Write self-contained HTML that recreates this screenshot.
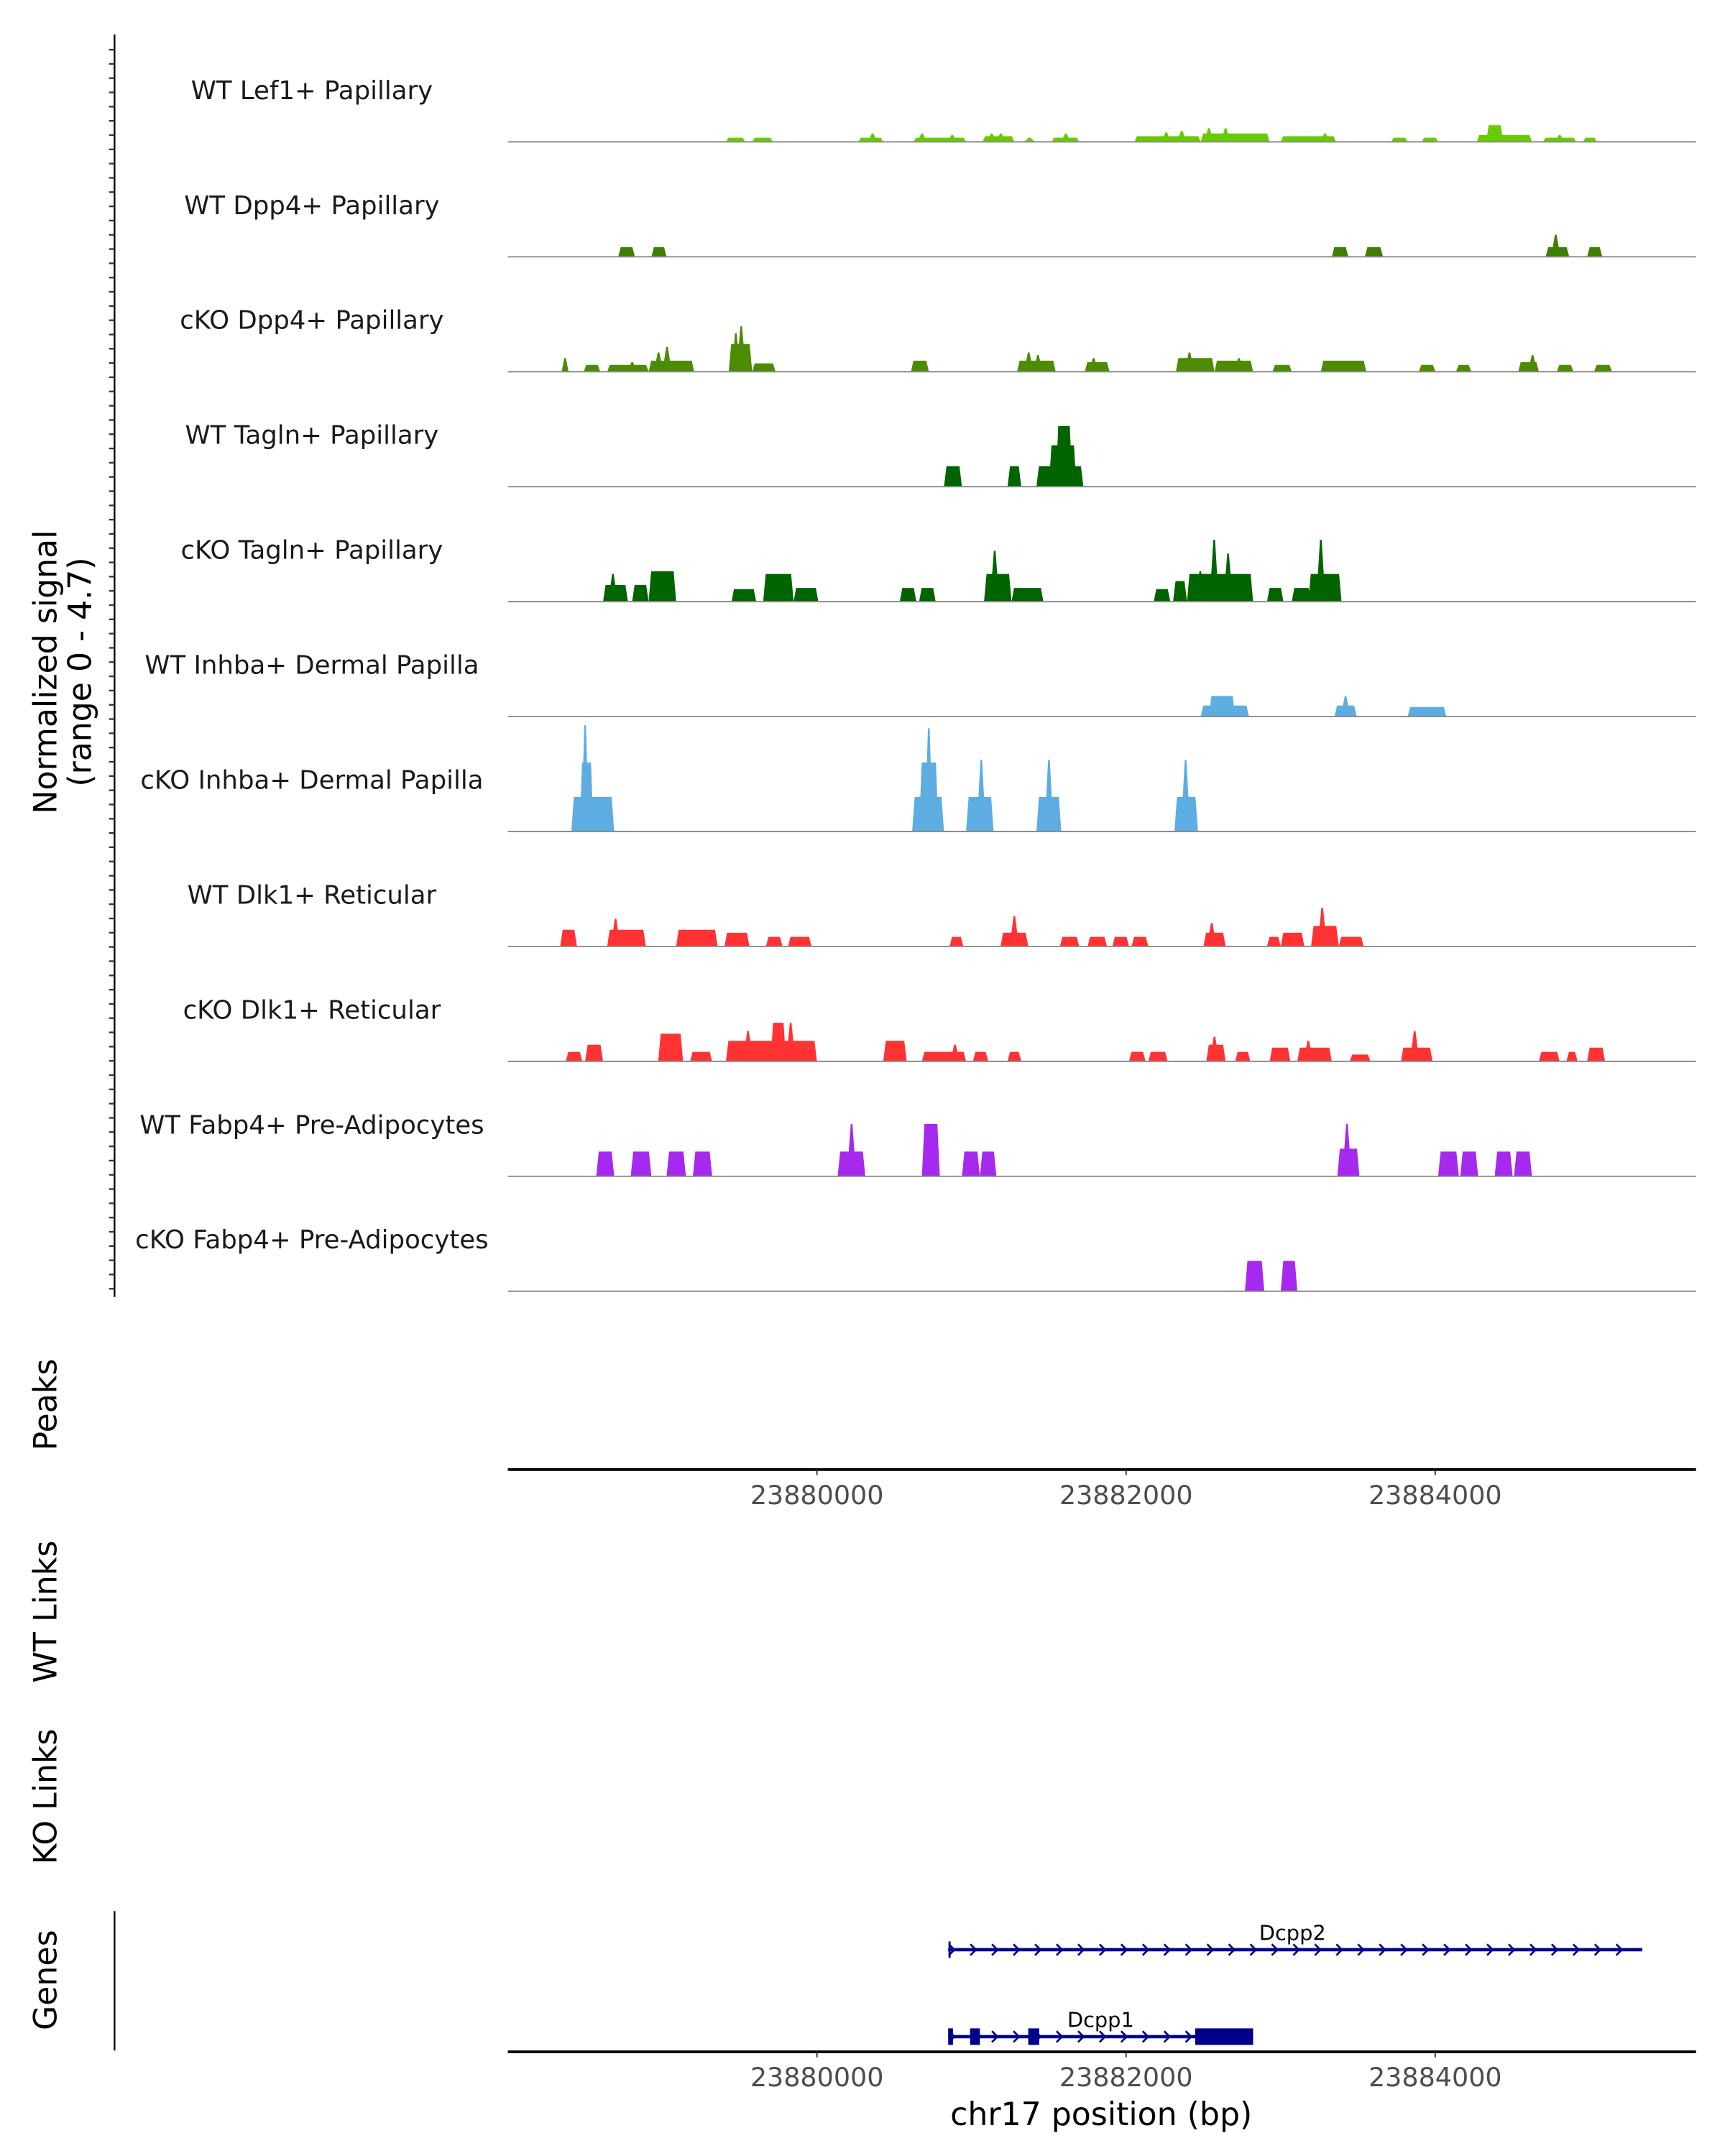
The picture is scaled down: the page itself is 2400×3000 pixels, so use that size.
<!DOCTYPE html>
<html><head><meta charset="utf-8"><style>
html,body{margin:0;padding:0;background:#fff;}
svg{display:block;font-family:"DejaVu Sans","Liberation Sans",sans-serif;}
</style></head><body>
<svg id="chart" width="2400" height="3000" viewBox="0 0 1250 1562.5" xmlns="http://www.w3.org/2000/svg">
<rect width="1250" height="1562.5" fill="#fff"/>
<g id="tracks"></g>
<g id="leftaxis"></g>
<text transform="translate(41,487) rotate(-90)" text-anchor="middle" font-size="23" fill="#000">Normalized signal</text>
<text transform="translate(66,487) rotate(-90)" text-anchor="middle" font-size="23" fill="#000">(range 0 - 4.7)</text>
<text transform="translate(41,1018) rotate(-90)" text-anchor="middle" font-size="23">Peaks</text>
<text transform="translate(41,1168) rotate(-90)" text-anchor="middle" font-size="23">WT Links</text>
<text transform="translate(41,1302) rotate(-90)" text-anchor="middle" font-size="23">KO Links</text>
<text transform="translate(41,1435) rotate(-90)" text-anchor="middle" font-size="23">Genes</text>
<line x1="83" y1="1385" x2="83" y2="1486" stroke="#000" stroke-width="1.2"/>
<g id="peaksaxis"></g>
<g id="genes"></g>
<g id="genesaxis"></g>
<text x="798" y="1540" text-anchor="middle" font-size="23">chr17 position (bp)</text>
</svg>
<script>
const regionStart = 23878000;
const tickLabels = ["23880000","23882000","23884000"];
const tickValues = [23880000, 23882000, 23884000];
const trackNames = ["WT Lef1+ Papillary","WT Dpp4+ Papillary","cKO Dpp4+ Papillary","WT Tagln+ Papillary","cKO Tagln+ Papillary","WT Inhba+ Dermal Papilla","cKO Inhba+ Dermal Papilla","WT Dlk1+ Reticular","cKO Dlk1+ Reticular","WT Fabp4+ Pre-Adipocytes","cKO Fabp4+ Pre-Adipocytes"];
const trackColors = ["#66CC00","#3F7F00","#4C8C00","#006400","#006400","#5DADE2","#5DADE2","#FF3333","#FF3333","#A52AEE","#A52AEE"];
const yMax = 4.7;
// segments: [start offset bp, end offset bp, signal]
const wtLef1 = [[1411,1536,0.17],[1581,1715,0.17],[2268,2429,0.17],[2330,2390,0.34],[2625,2965,0.17],[2650,2710,0.34],[2845,2905,0.28],[3072,3277,0.23],[3100,3160,0.34],[3160,3220,0.34],[3340,3411,0.17],[3518,3697,0.17],[3580,3640,0.34],[4054,4483,0.23],[4230,4290,0.39],[4330,4390,0.45],[4483,4929,0.34],[4506,4566,0.56],[4614,4674,0.56],[5001,5358,0.23],[5257,5317,0.34],[5715,5822,0.17],[5912,6019,0.17],[6269,6626,0.28],[6330,6440,0.68],[6698,6912,0.17],[6775,6835,0.28],[6956,7046,0.17]];
const wtDpp4 = [[714,822,0.39],[929,1027,0.39],[5331,5438,0.39],[5545,5662,0.39],[6715,6867,0.39],[6750,6810,0.9],[6983,7081,0.39]];
const koDpp4 = [[348,393,0.56],[491,598,0.28],[643,911,0.28],[775,835,0.39],[911,1206,0.45],[945,1005,0.79],[1000,1060,1.01],[1429,1581,1.13],[1480,1540,1.86],[1450,1500,1.58],[1581,1732,0.34],[2608,2724,0.45],[3295,3545,0.45],[3340,3400,0.79],[3400,3460,0.68],[3733,3893,0.39],[3760,3820,0.56],[4322,4572,0.56],[4380,4440,0.79],[4572,4822,0.45],[4700,4760,0.56],[4947,5072,0.28],[5260,5554,0.45],[5894,6001,0.28],[6135,6233,0.28],[6537,6671,0.39],[6600,6660,0.68],[6787,6894,0.28],[7028,7144,0.28]];
const wtTagln = [[2822,2938,0.84],[3233,3322,0.84],[3420,3724,0.84],[3501,3679,1.69],[3545,3652,2.48]];
const koTagln = [[616,777,0.68],[650,710,1.13],[804,911,0.68],[911,1089,1.24],[1447,1607,0.51],[1652,1849,1.13],[1849,2009,0.56],[2536,2643,0.56],[2661,2768,0.56],[3081,3259,1.13],[3120,3180,2.08],[3259,3465,0.56],[4179,4286,0.51],[4304,4394,0.84],[4394,4822,1.13],[4450,4510,1.24],[4540,4600,2.53],[4630,4690,1.97],[4912,5018,0.56],[5072,5197,0.56],[5179,5394,1.13],[5230,5290,2.53]];
const wtInhba = [[4483,4795,0.45],[4536,4706,0.84],[5349,5492,0.45],[5390,5450,0.84],[5822,6072,0.39]];
const koInhba = [[411,688,1.41],[464,554,2.82],[475,525,4.34],[2616,2822,1.41],[2661,2786,2.82],[2697,2750,4.22],[2965,3143,1.41],[3033,3093,2.93],[3420,3581,1.41],[3471,3531,2.93],[4313,4465,1.41],[4355,4415,2.93]];
const wtDlk1 = [[339,447,0.68],[643,893,0.68],[667,727,1.13],[1089,1357,0.68],[1402,1563,0.56],[1670,1777,0.39],[1813,1965,0.39],[2858,2947,0.39],[3188,3367,0.56],[3247,3307,1.24],[3572,3697,0.39],[3751,3876,0.39],[3911,4019,0.39],[4036,4144,0.39],[4501,4644,0.56],[4524,4584,0.96],[4912,5001,0.39],[5001,5153,0.56],[5197,5376,0.84],[5239,5299,1.58],[5376,5537,0.39]];
const koDlk1 = [[375,482,0.39],[500,616,0.68],[973,1134,1.13],[1179,1322,0.39],[1411,2000,0.84],[1524,1584,1.24],[1700,1800,1.58],[1800,1860,1.58],[2429,2581,0.84],[2679,2965,0.39],[2863,2923,0.68],[3009,3108,0.39],[3233,3322,0.39],[4019,4126,0.39],[4144,4269,0.39],[4519,4644,0.68],[4542,4602,1.01],[4706,4804,0.39],[4929,5063,0.56],[5108,5331,0.56],[5149,5209,0.84],[5447,5581,0.28],[5778,5983,0.56],[5837,5897,1.24],[6671,6805,0.39],[6849,6921,0.39],[6983,7099,0.56]];
const wtFabp4 = [[572,688,1.01],[795,929,1.01],[1027,1152,1.01],[1197,1322,1.01],[2134,2313,1.01],[2194,2254,2.14],[2679,2795,2.14],[2938,3054,1.01],[3054,3161,1.01],[5367,5510,1.13],[5399,5459,2.14],[6019,6153,1.01],[6162,6278,1.01],[6385,6501,1.01],[6510,6626,1.01]];
const koFabp4 = [[4769,4894,1.24],[5001,5108,1.24]];
const trackData = [wtLef1,wtDpp4,koDpp4,wtTagln,koTagln,wtInhba,koInhba,wtDlk1,koDlk1,wtFabp4,koFabp4];
const geneNames = ["Dcpp2","Dcpp1"];
const geneStarts = [2849, 2849];
const geneEnds = [7340, 4822];
const dcpp1Exons = [[2849,2880],[2991,3054],[3367,3438],[4447,4822]];

const NS = "http://www.w3.org/2000/svg";
const X0 = 368, X1 = 1229, PX_PER_BP = 0.112;
function xs(off){ return X0 + off*PX_PER_BP; }
function xg(bp){ return xs(bp - regionStart); }
const TRACK_TOP = 20, TRACK_H = 83.3;
function ys(v){ return v/yMax*TRACK_H; }
function mk(tag, attrs, parent){ const e=document.createElementNS(NS,tag); for(const k in attrs) e.setAttribute(k,attrs[k]); parent.appendChild(e); return e; }

const tg = document.getElementById('tracks');
trackData.forEach((segs, i) => {
  const base = TRACK_TOP + TRACK_H*(i+1) - 0.5;
  const g = mk('g', {}, tg);
  
  
  const lab = mk('text', {x:226, y:base-31, 'text-anchor':'middle', 'font-size':'18.5', fill:'#1a1a1a'}, g);
  lab.textContent = trackNames[i];
  
  
  segs.forEach(s => {
    const a = xs(s[0]), b = xs(s[1]), h = ys(s[2]);
    const w = b - a;
    let pts;
    if (w < 8) { const m=(a+b)/2; pts = [[a,base],[m-0.6,base-h],[m+0.6,base-h],[b,base]]; }
    else { const sl = Math.min(1.8, w/4); pts = [[a,base],[a+sl,base-h],[b-sl,base-h],[b,base]]; }
    const p = mk('polygon', {points: pts.map(q=>q.join(',')).join(' '), fill: trackColors[i]}, g);
    
    
  });
  const bl = mk('line', {x1:X0, x2:X1, y1:base, y2:base, stroke:'#8c8c8c', 'stroke-width':1}, g);
  
  
});

const la = document.getElementById('leftaxis');
mk('line', {x1:83, x2:83, y1:25, y2:940, stroke:'#000', 'stroke-width':1.2}, la);
for (let k=0;k<88;k++){ const y = 36 + k*(934-36)/87; mk('line',{x1:79,x2:83,y1:y,y2:y,stroke:'#333','stroke-width':1.2},la); }

function xAxis(gid, y){
  const g = document.getElementById(gid);
  mk('line', {x1:X0, x2:X1, y1:y, y2:y, stroke:'#000', 'stroke-width':2}, g);
  tickValues.forEach((v,i)=>{
    const x = xg(v);
    mk('line',{x1:x,x2:x,y1:y,y2:y+4,stroke:'#333','stroke-width':1},g);
    const t = mk('text',{x:x,y:y+25,'text-anchor':'middle','font-size':'19','fill':'#4d4d4d'},g);
    t.textContent = tickLabels[i];
    
    
  });
}
xAxis('peaksaxis', 1065);
xAxis('genesaxis', 1487);

const gg = document.getElementById('genes');
const geneY = [1413, 1476];
geneNames.forEach((n,i)=>{
  const y = geneY[i], a = xs(geneStarts[i]), b = xs(geneEnds[i]);
  const g = mk('g', {}, gg);
  
  
  mk('line',{x1:a,x2:b,y1:y,y2:y,stroke:'#00008B','stroke-width':2.4},g);
  mk('line',{x1:a+1,x2:a+1,y1:y-6,y2:y+6,stroke:'#00008B','stroke-width':1.5},g);
  for (let x=a+3; x<=b-1; x+=15.6){
    mk('polyline',{points:`${x-2.5},${y-4} ${x+1.5},${y} ${x-2.5},${y+4}`,fill:'none',stroke:'#00008B','stroke-width':1.4},g);
  }
  const t = mk('text',{x:(a+b)/2 + (i===0?-2:0), y:y-7,'text-anchor':'middle','font-size':'15'},g);
  t.textContent = n;
  
  
});
dcpp1Exons.forEach(e=>{
  const r = mk('rect',{x:xs(e[0]),y:1470,width:xs(e[1])-xs(e[0]),height:12,fill:'#00008B'},gg);
  
  
});
</script>
</body></html>
